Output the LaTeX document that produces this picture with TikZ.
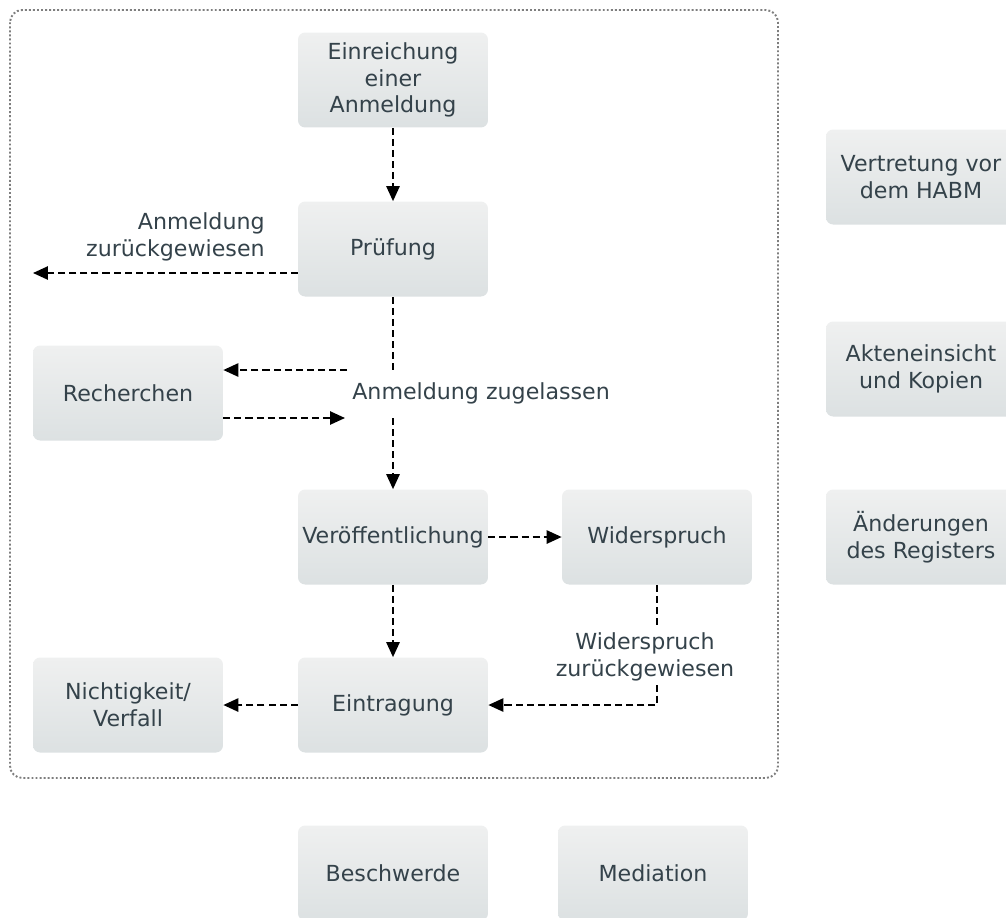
\documentclass[tikz,border=0pt]{standalone}
\usepackage{fontspec}
\setmainfont{DejaVu Sans}
\usepackage{tikz}
\usetikzlibrary{arrows.meta}
\definecolor{boxtop}{HTML}{EFF0F0}
\definecolor{boxbottom}{HTML}{DCE1E2}
\definecolor{boxtext}{HTML}{34424A}
\definecolor{framegray}{HTML}{7E7E7E}

\begin{document}
\begin{tikzpicture}[%
x=0.02cm,y=-0.02cm,
stage/.style={minimum width=3.8cm,minimum height=1.9cm,inner xsep=1pt,rounded corners=4pt,top color=boxtop,bottom color=boxbottom,text=boxtext,align=center,font=\fontsize{12.6}{15.3}\selectfont},
note/.style={text=boxtext,inner sep=0pt,font=\fontsize{12.6}{15.3}\selectfont},
area/.style={draw=framegray,line width=1.1pt,dash pattern=on 1.1pt off 1.2pt,rounded corners=7pt},
link/.style={draw,line width=1.1pt,dash pattern=on 4pt off 2.3pt},
arrow/.style={link,-{Triangle[length=8.5pt,width=7.5pt]}}
]
\useasboundingbox (0,0) rectangle (1006,917);
\path[style=area] (10,10) rectangle (778,778);
\node[style=stage] (einreichung) at (393,80) {Einreichung\\einer\\Anmeldung};
\node[style=stage] (pruefung) at (393,249) {Prüfung};
\node[style=stage] (recherchen) at (128,393) {Recherchen};
\node[style=stage] (veroeffentlichung) at (393,537) {Veröffentlichung};
\node[style=stage] (widerspruch) at (657,537) {Widerspruch};
\node[style=stage] (nichtigkeit) at (128,705) {Nichtigkeit/\\Verfall};
\node[style=stage] (eintragung) at (393,705) {Eintragung};
\node[style=stage] (vertretung) at (921,177) {Vertretung vor\\dem HABM};
\node[style=stage] (akteneinsicht) at (921,369) {Akteneinsicht\\und Kopien};
\node[style=stage] (aenderungen) at (921,537) {Änderungen\\des Registers};
\node[style=stage] (beschwerde) at (393,873) {Beschwerde};
\node[style=stage] (mediation) at (653,873) {Mediation};
\node[style=note,align=right,anchor=east] (zurueckgewiesen) at (265,237) {Anmeldung\\zurückgewiesen};
\node[style=note,anchor=west] (zugelassen) at (352,393) {Anmeldung zugelassen};
\coordinate (abgelehnt) at (33,273);
\coordinate (zugelassen oben) at (393,370);
\coordinate (zugelassen unten) at (393,418);
\coordinate (recherche hin) at (347,370);
\coordinate (recherche zurueck) at (345,418);
\path[style=arrow] (einreichung) -- (pruefung);
\path[style=arrow] (pruefung.west |- abgelehnt) -- (abgelehnt);
\path[style=link] (pruefung) -- (zugelassen oben);
\path[style=arrow] (recherche hin) -- (recherchen.east |- recherche hin);
\path[style=arrow] (recherchen.east |- recherche zurueck) -- (recherche zurueck);
\path[style=arrow] (zugelassen unten) -- (veroeffentlichung);
\path[style=arrow] (veroeffentlichung) -- (widerspruch);
\path[style=arrow] (veroeffentlichung) -- (eintragung);
\path[style=arrow] (widerspruch) |- (eintragung);
\node[style=note,fill=white,align=center,inner sep=2pt] (widerspruch zurueck) at (645,657) {Widerspruch\\zurückgewiesen};
\path[style=arrow] (eintragung) -- (nichtigkeit);
\end{tikzpicture}
\end{document}
